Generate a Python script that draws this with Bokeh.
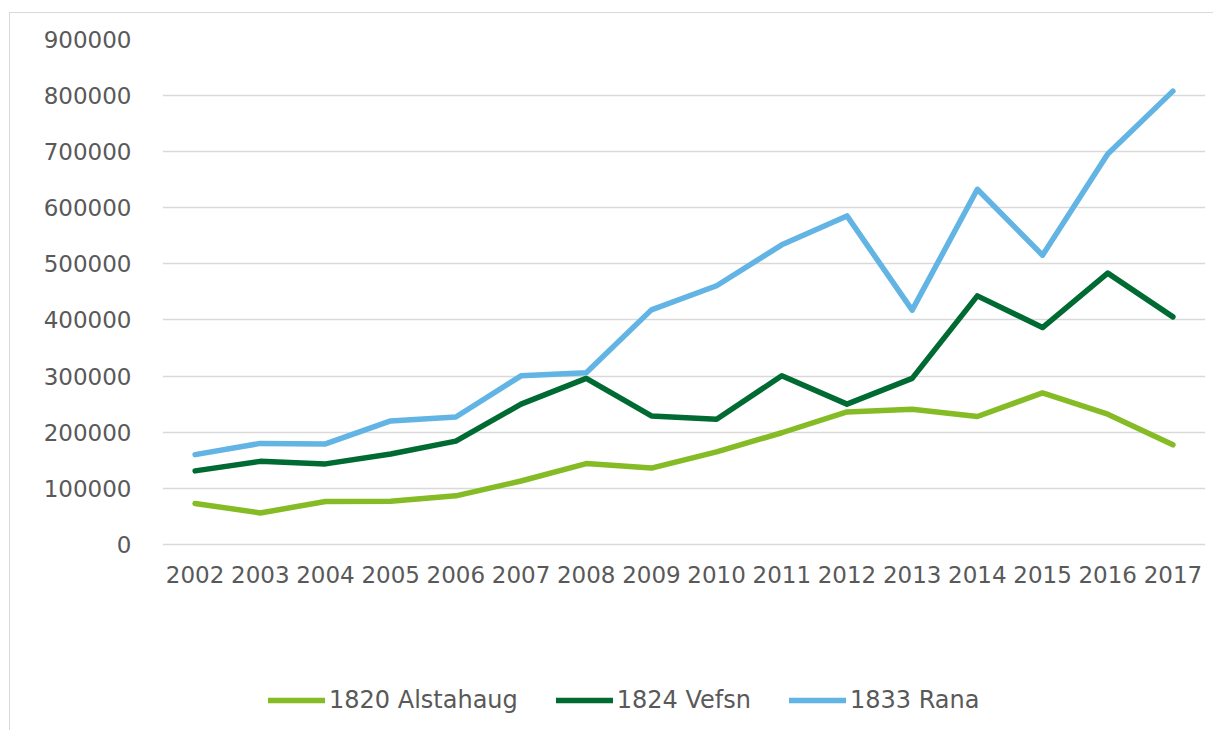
from bokeh.plotting import figure
from bokeh.models import Range1d, FixedTicker, NumeralTickFormatter, Legend, LegendItem
from bokeh.embed import file_html
from bokeh.resources import INLINE

years = ["2002", "2003", "2004", "2005", "2006", "2007", "2008", "2009",
         "2010", "2011", "2012", "2013", "2014", "2015", "2016", "2017"]
alstahaug = [73000, 56000, 76500, 77000, 86500, 113000, 144000, 136000,
             165000, 199000, 236000, 241000, 228000, 270000, 232000, 177500]
vefsn = [131000, 148000, 143500, 161000, 184000, 250000, 296000, 229000,
         223000, 300500, 250000, 296000, 443000, 386500, 483500, 405500]
rana = [160000, 180000, 179000, 220000, 227000, 300500, 306000, 418000,
        461000, 534000, 585500, 417500, 633000, 515500, 696000, 808000]
series_names = ["1820 Alstahaug", "1824 Vefsn", "1833 Rana"]
series_colors = ["#85bb25", "#006a33", "#62b4e4"]
y_ticks = [0, 100000, 200000, 300000, 400000, 500000, 600000, 700000, 800000, 900000]

FONT = "DejaVu Sans"
TXT = "#595959"

# frame reaches below the value axis so the legend (drawn in the frame) fits
p = figure(x_range=years, y_range=Range1d(-308600, 900000),
           frame_width=1043, frame_height=678,
           min_border_left=152, min_border_top=26, min_border_right=8, min_border_bottom=13,
           output_backend="svg", toolbar_location=None,
           background_fill_color="white", border_fill_color="white")
p.styles = {"margin-left": "9px", "margin-top": "12px",
            "border-top": "1px solid #d9d9d9", "border-left": "1px solid #d9d9d9"}
p.outline_line_color = None

p.x_range.range_padding = 0
p.xgrid.grid_line_color = None
p.ygrid.grid_line_color = "#d9d9d9"
p.ygrid.grid_line_width = 1.5
p.yaxis.ticker = FixedTicker(ticks=y_ticks)
p.yaxis.formatter = NumeralTickFormatter(format="0")
p.xaxis.fixed_location = 0

for ax in (p.xaxis[0], p.yaxis[0]):
    ax.axis_line_color = None
    ax.major_tick_line_color = None
    ax.minor_tick_line_color = None
    ax.major_label_text_font = FONT
    ax.major_label_text_font_size = "23px"
    ax.major_label_text_color = TXT
p.yaxis.major_label_standoff = 25
p.xaxis.major_label_standoff = 16

items = []
for name, vals, col in zip(series_names, [alstahaug, vefsn, rana], series_colors):
    r = p.line(x=years, y=vals, line_color=col, line_width=5.5,
               line_cap="round", line_join="round")
    items.append(LegendItem(label=name, renderers=[r]))

legend = Legend(items=items, orientation="horizontal", location=(106, 3),
                label_text_font=FONT, label_text_font_size="24px", label_text_color=TXT,
                glyph_width=57, glyph_height=28, label_height=28, label_standoff=4,
                spacing=38, padding=0, margin=0,
                border_line_color=None, background_fill_alpha=0)
p.add_layout(legend, "center")

open("out.html", "w").write(file_html(p, INLINE))
